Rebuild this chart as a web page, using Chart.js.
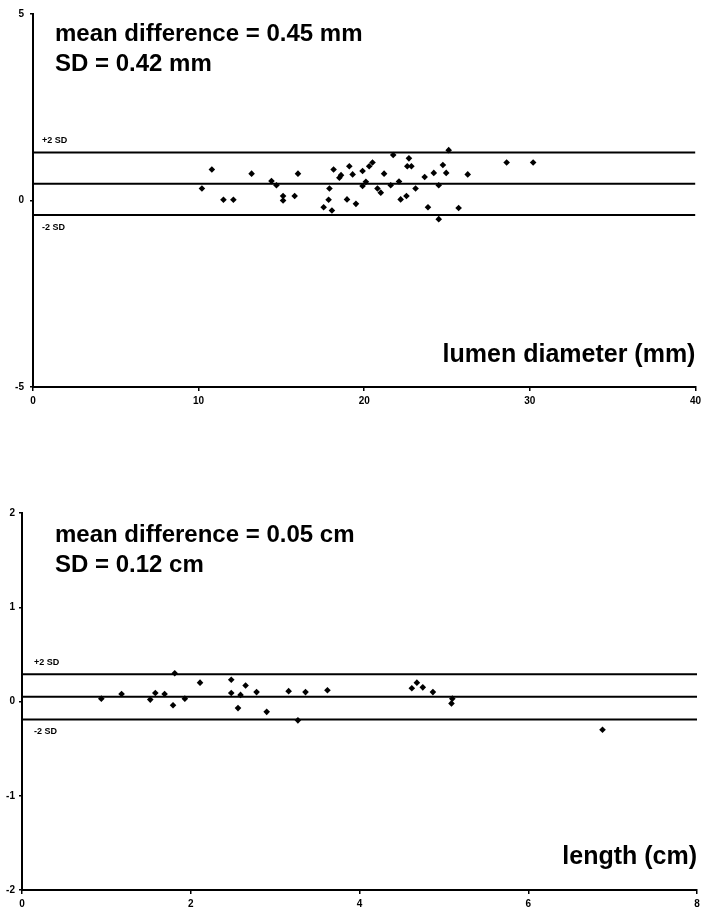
<!DOCTYPE html>
<html><head><meta charset="utf-8">
<script src="https://cdn.jsdelivr.net/npm/chart.js@4"></script>
<style>
html,body{margin:0;padding:0;background:#fff;width:705px;height:916px;overflow:hidden}
.wrap{position:absolute;left:0;width:705px}
#w1{top:0;height:440px}
#w2{top:450px;height:466px}
canvas{display:block}
</style></head><body>
<div class="wrap" id="w1"><canvas id="c1" width="705" height="440"></canvas></div>
<div class="wrap" id="w2"><canvas id="c2" width="705" height="466"></canvas></div>
<script>
// ---- Top panel: lumen diameter ----
const lumenX = [10.2,10.8,11.5,12.1,13.2,14.4,14.7,15.1,15.1,15.8,16.0,17.55,17.85,17.9,18.05,18.15,18.5,18.6,18.96,19.1,19.3,19.5,19.9,19.9,20.1,20.3,20.5,20.8,21.0,21.2,21.6,21.75,22.1,22.2,22.55,22.7,22.6,22.85,23.1,23.65,23.85,24.2,24.5,24.5,24.75,24.95,25.1,25.7,26.25,28.6,30.2];
const lumenDiff = [0.32,0.83,0.02,0.02,0.72,0.52,0.41,0.12,0.0,0.12,0.72,-0.18,0.02,0.32,-0.27,0.83,0.61,0.68,0.03,0.92,0.70,-0.09,0.79,0.39,0.50,0.92,1.02,0.32,0.21,0.72,0.41,1.22,0.51,0.03,0.12,1.13,0.92,0.92,0.32,0.63,-0.18,0.74,0.41,-0.50,0.95,0.74,1.35,-0.20,0.70,1.02,1.02];
const lumenMean = 0.45;
const lumenSD = 0.42;
const lumenXRange = [0, 40];
const lumenYRange = [-5, 5];
const lumenXStep = 10;
const lumenYStep = 5;
const lumenText = ['mean difference = 0.45 mm', 'SD = 0.42 mm'];
const lumenAxisTitle = 'lumen diameter (mm)';

// ---- Bottom panel: length ----
const lengthX = [0.94,1.18,1.52,1.58,1.69,1.79,1.81,1.93,2.11,2.48,2.48,2.56,2.59,2.65,2.78,2.90,3.16,3.27,3.36,3.62,4.62,4.68,4.75,4.87,5.09,5.10,6.88];
const lengthDiff = [0.03,0.08,0.02,0.09,0.08,-0.04,0.30,0.03,0.20,0.23,0.09,-0.07,0.07,0.17,0.10,-0.11,0.11,-0.20,0.10,0.12,0.14,0.20,0.15,0.10,-0.02,0.03,-0.30];
const lengthMean = 0.05;
const lengthSD = 0.12;
const lengthXRange = [0, 8];
const lengthYRange = [-2, 2];
const lengthXStep = 2;
const lengthYStep = 1;
const lengthText = ['mean difference = 0.05 cm', 'SD = 0.12 cm'];
const lengthAxisTitle = 'length (cm)';

const SD_LABELS = ['+2 SD', '-2 SD'];
const FONT = "'Liberation Sans', Arial, Helvetica, sans-serif";

function makeChart(id, cfg) {
  const xs = cfg.x, ys = cfg.y;
  const pts = xs.map((v, i) => ({x: v, y: ys[i]}));
  const up = cfg.mean + 2 * cfg.sd, lo = cfg.mean - 2 * cfg.sd;
  const hline = v => [{x: cfg.xr[0], y: v}, {x: cfg.xr[1], y: v}];
  const lineDs = v => ({type: 'line', data: hline(v), borderColor: '#000', borderWidth: 2, pointRadius: 0, fill: false, order: 2});
  const textPlugin = {
    id: 'txt' + id,
    afterDraw(chart) {
      const ctx = chart.ctx, a = chart.chartArea, ys = chart.scales.y;
      ctx.save();
      ctx.fillStyle = '#000';
      ctx.font = 'bold 24px ' + FONT;
      ctx.textBaseline = 'middle';
      ctx.textAlign = 'left';
      cfg.text.forEach((t, i) => ctx.fillText(t, 55, a.top + cfg.textTop + i * 30));
      ctx.font = 'bold 25px ' + FONT;
      ctx.textAlign = 'right';
      ctx.fillText(cfg.title, a.right, a.bottom - cfg.titleUp);
      ctx.font = 'bold 9px ' + FONT;
      ctx.textAlign = 'left';
      ctx.fillText(SD_LABELS[0], a.left + cfg.sdx, ys.getPixelForValue(up) - 12);
      ctx.fillText(SD_LABELS[1], a.left + cfg.sdx, ys.getPixelForValue(lo) + 12);
      ctx.restore();
    }
  };
  return new Chart(document.getElementById(id), {
    type: 'scatter',
    data: {datasets: [
      {data: pts, backgroundColor: '#000', borderColor: '#000', pointStyle: 'rectRot', pointRadius: 3.3, borderWidth: 0, order: 1},
      lineDs(up), lineDs(cfg.mean), lineDs(lo)
    ]},
    options: {
      responsive: false, animation: false, devicePixelRatio: 1,
      layout: {padding: {top: cfg.padTop, right: 8, left: 0, bottom: 0}},
      plugins: {legend: {display: false}, tooltip: {enabled: false}},
      scales: {
        x: {
          type: 'linear', min: cfg.xr[0], max: cfg.xr[1],
          ticks: {stepSize: cfg.xs, color: '#000', font: {family: FONT, weight: 'bold', size: 10}, padding: 4, maxRotation: 0},
          grid: {drawOnChartArea: false, drawTicks: true, tickLength: 4, color: '#000', lineWidth: 1.5},
          border: {display: true, color: '#000', width: 2},
          afterFit: s => { s.height = cfg.xh; }
        },
        y: {
          type: 'linear', min: cfg.yr[0], max: cfg.yr[1],
          ticks: {stepSize: cfg.ys, color: '#000', font: {family: FONT, weight: 'bold', size: 10}, padding: cfg.ypad},
          grid: {drawOnChartArea: false, drawTicks: true, tickLength: 3, color: '#000', lineWidth: 1.5},
          border: {display: true, color: '#000', width: 2},
          afterFit: s => { s.width = cfg.yw; }
        }
      }
    },
    plugins: [textPlugin]
  });
}

makeChart('c1', {x: lumenX, y: lumenDiff, mean: lumenMean, sd: lumenSD, xr: lumenXRange, yr: lumenYRange,
  xs: lumenXStep, ys: lumenYStep, text: lumenText, title: lumenAxisTitle,
  padTop: 14, xh: 53, yw: 33, ypad: 6, textTop: 20, titleUp: 32, sdx: 9});
makeChart('c2', {x: lengthX, y: lengthDiff, mean: lengthMean, sd: lengthSD, xr: lengthXRange, yr: lengthYRange,
  xs: lengthXStep, ys: lengthYStep, text: lengthText, title: lengthAxisTitle,
  padTop: 63, xh: 26, yw: 22, ypad: 4, textTop: 22, titleUp: 33, sdx: 12});
</script>
</body></html>
